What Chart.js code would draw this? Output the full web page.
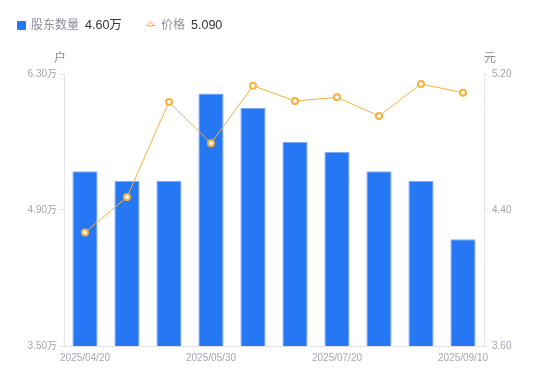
<!DOCTYPE html>
<html><head><meta charset="utf-8">
<script src="https://cdn.jsdelivr.net/npm/chart.js@4"></script>
<style>
html,body{margin:0;padding:0;background:#fff;}
#wrap{position:relative;width:550px;height:381px;}
canvas{position:absolute;left:0;top:0;}
.lg{position:absolute;top:15px;font:12px "Noto Sans CJK SC","Liberation Sans",sans-serif;line-height:18px;white-space:nowrap;}
.lab{color:#8b8d9b;}
.val{color:#333;margin-left:6px;font-family:"Liberation Sans","Noto Sans CJK SC",sans-serif;font-size:12.5px;}
</style></head>
<body>
<div id="wrap">
<canvas id="c" width="550" height="381"></canvas>
<div class="lg" style="left:17px;"><span style="display:inline-block;width:9px;height:9px;background:#2677F4;border-radius:1px;vertical-align:-1px;margin-right:5px;"></span><span class="lab">股东数量</span><span class="val">4.60万</span></div>
<div class="lg" style="left:146px;"><span style="display:inline-block;position:relative;width:10px;height:9px;margin-right:5px;vertical-align:-1px;"><span style="position:absolute;left:0;top:4px;width:10px;height:1px;background:#F7B03C;"></span><span style="position:absolute;left:2px;top:1px;width:3px;height:3px;border:1.5px solid #F7B03C;border-radius:50%;background:#fff;"></span></span><span class="lab">价格</span><span class="val">5.090</span></div>
</div>
<script>
const categories = ['2025/04/20','2025/04/30','2025/05/20','2025/05/30','2025/06/20','2025/06/30','2025/07/20','2025/08/10','2025/08/31','2025/09/10'];
const holders = [5.30, 5.20, 5.20, 6.10, 5.95, 5.60, 5.50, 5.30, 5.20, 4.60];
const prices = [4.267, 4.476, 5.035, 4.792, 5.131, 5.041, 5.063, 4.953, 5.141, 5.090];
const leftTicks = [3.50, 4.90, 6.30];
const rightTicks = [3.60, 4.40, 5.20];
const leftUnit = '户';
const rightUnit = '元';

const tickColor = '#a3a5b3';
const axisColor = '#e3e3e8';
const numFont = {family:'"Liberation Sans", "Noto Sans CJK SC", sans-serif', size:10};

const unitPlugin = {
  id:'units',
  afterDraw(chart){
    const ctx = chart.ctx;
    const a = chart.chartArea;
    ctx.save();
    ctx.fillStyle = '#8b8d9b';
    ctx.font = '12px "Noto Sans CJK SC", sans-serif';
    ctx.textAlign = 'center';
    ctx.textBaseline = 'middle';
    ctx.fillText(leftUnit, a.left - 4, 57);
    ctx.fillText(rightUnit, a.right + 6, 57);
    ctx.restore();
  }
};

new Chart(document.getElementById('c'), {
  data:{
    labels:categories,
    datasets:[
      {type:'line', label:'价格', data:prices, yAxisID:'y1', order:0,
       borderColor:'#F7B03C', borderWidth:1, pointRadius:3, pointBorderWidth:2,
       pointBackgroundColor:'#fff', pointBorderColor:'#F7B03C', tension:0},
      {type:'bar', label:'股东数量', data:holders, yAxisID:'y', order:1,
       backgroundColor:'#2677F4', borderColor:'#7DAAF6', borderWidth:{top:1,left:1,right:1,bottom:0},
       categoryPercentage:1, barPercentage:0.6, borderSkipped:'bottom'}
    ]
  },
  options:{
    responsive:false, animation:false, devicePixelRatio:1,
    layout:{padding:{top:74,left:0,right:0,bottom:0}},
    plugins:{legend:{display:false}, tooltip:{enabled:false}},
    scales:{
      x:{
        offset:true,
        grid:{display:false, drawTicks:false},
        border:{display:true, color:axisColor},
        ticks:{autoSkip:false, maxRotation:0, padding:6, color:tickColor, font:numFont,
          callback:function(v,i){return i%3===0 ? categories[i] : '';}},
        afterFit(s){s.height = 35;}
      },
      y:{
        position:'left', min:3.5, max:6.3,
        afterBuildTicks(s){s.ticks = leftTicks.map(v=>({value:v}));},
        grid:{drawOnChartArea:false, drawTicks:true, tickLength:4, color:axisColor},
        border:{display:true, color:axisColor},
        ticks:{padding:3, color:tickColor, font:numFont, callback:v=>Number(v).toFixed(2)+'万'},
        afterFit(s){s.width = 64;}
      },
      y1:{
        position:'right', min:3.6, max:5.2,
        afterBuildTicks(s){s.ticks = rightTicks.map(v=>({value:v}));},
        grid:{drawOnChartArea:false, drawTicks:true, tickLength:4, color:axisColor},
        border:{display:true, color:axisColor},
        ticks:{padding:4, color:tickColor, font:numFont, callback:v=>Number(v).toFixed(2)},
        afterFit(s){s.width = 66;}
      }
    }
  },
  plugins:[unitPlugin]
});
</script>
</body></html>
